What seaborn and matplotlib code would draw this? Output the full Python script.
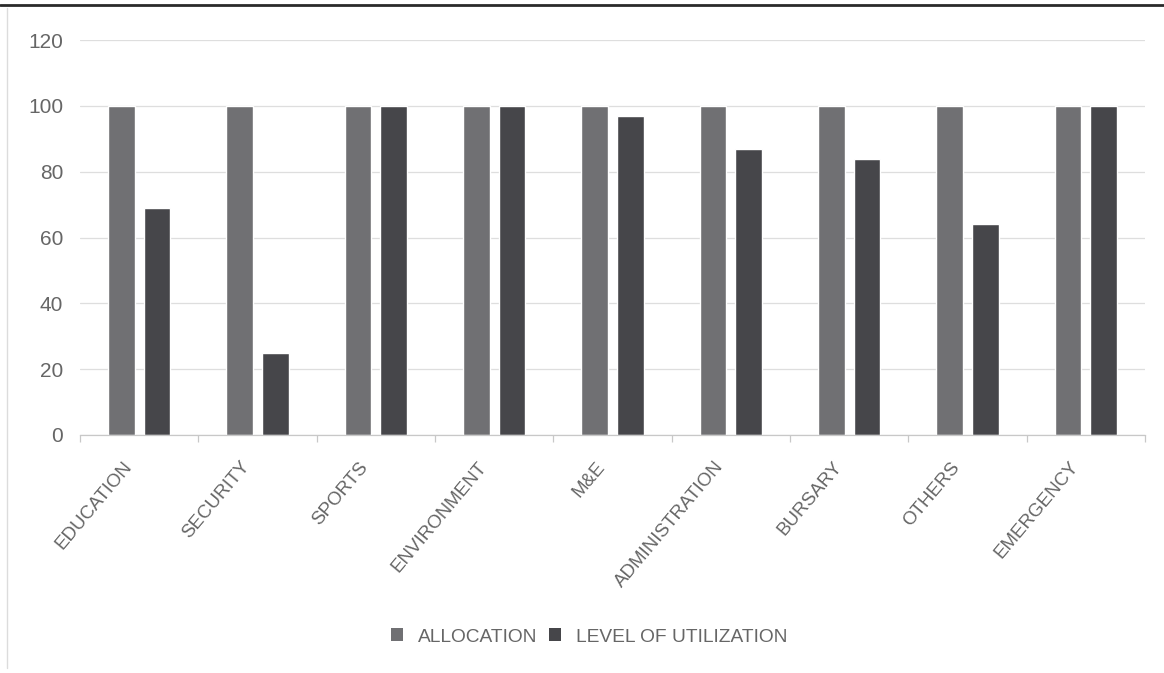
import matplotlib
matplotlib.use("Agg")
import matplotlib.pyplot as plt
from matplotlib.lines import Line2D
from matplotlib.patches import Patch
from matplotlib.transforms import ScaledTranslation
import seaborn as sns
import pandas as pd
import numpy as np

# Budget lines and their funding figures
categories = ["EDUCATION", "SECURITY", "SPORTS", "ENVIRONMENT", "M&E",
              "ADMINISTRATION", "BURSARY", "OTHERS", "EMERGENCY"]
allocation = [100, 100, 100, 100, 100, 100, 100, 100, 100]
utilization = [69, 25, 100, 100, 97, 87, 84, 64, 100]
series_names = ["ALLOCATION", "LEVEL OF UTILIZATION"]
y_ticks = [0, 20, 40, 60, 80, 100, 120]

df = pd.DataFrame({
    "category": categories * 2,
    "value": allocation + utilization,
    "series": [series_names[0]] * len(categories) + [series_names[1]] * len(categories),
})

sns.set_theme(style="white")
plt.rcParams["font.family"] = ["Liberation Sans", "DejaVu Sans"]

text_color = "#666666"
bar_colors = ["#707073", "#46464a"]

fig = plt.figure(figsize=(11.64, 6.73), dpi=100)
ax = fig.add_axes([80 / 1164, 1 - 435 / 673, (1145 - 80) / 1164, (435 - 40) / 673])

sns.barplot(data=df, x="category", y="value", hue="series", order=categories,
            hue_order=series_names, palette=bar_colors, width=0.6, gap=0.25,
            saturation=1, ax=ax, legend=False)

ax.set_xlim(-0.5, len(categories) - 0.5)
ax.set_ylim(0, 120)
ax.set_yticks(y_ticks)
ax.set_yticklabels([str(t) for t in y_ticks], fontsize=15, color=text_color)
ax.yaxis.grid(True, color="#dedede", linewidth=0.9)
ax.set_axisbelow(True)
ax.tick_params(axis="y", length=0, pad=12)

# category labels, slanted, and separator ticks between groups
ax.set_xticks(range(len(categories)))
ax.set_xticklabels(categories, rotation=50, ha="right", rotation_mode="anchor",
                   fontsize=13.5, color=text_color)
ax.tick_params(axis="x", which="major", length=0, pad=14)
shift = ScaledTranslation(-17 / 100, -4 / 100, fig.dpi_scale_trans)
for lbl in ax.get_xticklabels():
    lbl.set_transform(lbl.get_transform() + shift)
ax.set_xticks(np.arange(-0.5, len(categories), 1.0), minor=True)
ax.tick_params(axis="x", which="minor", length=5, color="#c8c8c8", width=0.9,
               bottom=True)
ax.set_xlabel("")
ax.set_ylabel("")

for side in ["top", "right", "left"]:
    ax.spines[side].set_visible(False)
ax.spines["bottom"].set_color("#c8c8c8")
ax.spines["bottom"].set_linewidth(0.9)

handles = [Patch(facecolor=c, edgecolor="none") for c in bar_colors]
fig.legend(handles, series_names, loc="center", bbox_to_anchor=(589 / 1164, 1 - 637 / 673),
           ncol=2, frameon=False, fontsize=13.8, labelcolor=text_color,
           handlelength=0.65, handleheight=0.65, handletextpad=0.75,
           columnspacing=0.6, borderpad=0)

# page rule across the top and the chart frame's left edge
fig.add_artist(Line2D([0, 1], [1 - 5 / 673, 1 - 5 / 673], color="#2a2a2a",
                      linewidth=2.0, transform=fig.transFigure))
fig.add_artist(Line2D([7 / 1164, 7 / 1164], [1 - 8 / 673, 1 - 668 / 673],
                      color="#dcdcdc", linewidth=1.0, transform=fig.transFigure))

fig.savefig("out.png", dpi=100, facecolor="white")
